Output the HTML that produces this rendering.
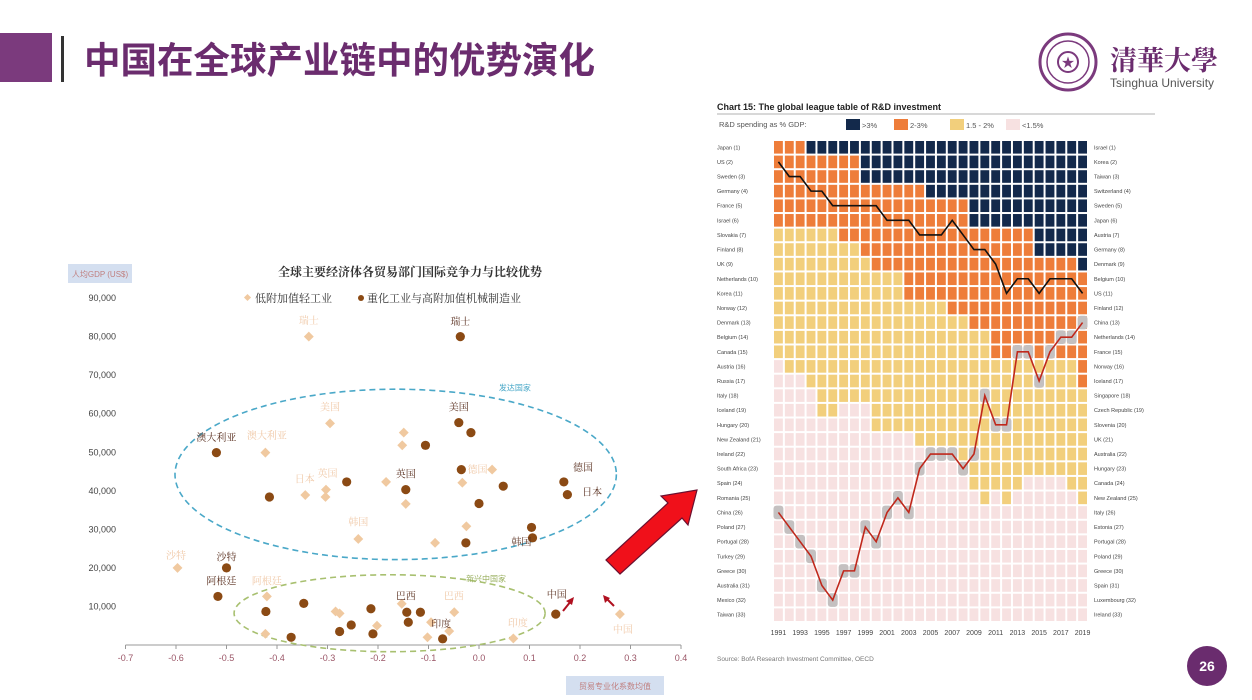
<!DOCTYPE html>
<html><head><meta charset="utf-8">
<style>
html,body{margin:0;padding:0;background:#fff;}
svg{display:block;font-family:"Liberation Sans","Noto Sans CJK SC",sans-serif;}
</style></head>
<body>
<svg id="page" width="1252" height="700" viewBox="0 0 1252 700" xmlns="http://www.w3.org/2000/svg">
  <rect x="0" y="0" width="1252" height="700" fill="#fff"/>
  <rect x="0" y="33" width="52" height="49" fill="#7b3a7d"/>
  <rect x="61" y="36" width="3" height="46" fill="#333"/>
  <text x="84" y="73" font-size="36.5" font-weight="bold" fill="#6b2c6e" font-family="'Liberation Sans','Noto Sans CJK SC',sans-serif">中国在全球产业链中的优势演化</text>

  <g>
    <circle cx="1068" cy="62" r="28" fill="none" stroke="#7b3a7d" stroke-width="3"/>
    <circle cx="1068" cy="62" r="21" fill="none" stroke="#7b3a7d" stroke-width="1.5"/>
    <circle cx="1068" cy="62" r="10" fill="none" stroke="#7b3a7d" stroke-width="2"/>
    <text x="1068" y="67" font-size="13" fill="#7b3a7d" text-anchor="middle">★</text>
    <text x="1110" y="70" font-size="27" fill="#6b2c6e" font-family="'Noto Serif CJK SC','Noto Sans CJK SC',serif" font-weight="bold">清華大學</text>
    <text x="1110" y="87" font-size="12" fill="#555">Tsinghua University</text>
  </g>

  <g id="scatter">
    <rect x="68" y="264" width="64" height="19" fill="#d4dff0"/>
    <text x="100" y="277" font-size="8" fill="#c08080" text-anchor="middle">人均GDP (US$)</text>
    <text x="410" y="276" font-size="12" font-weight="bold" fill="#333" text-anchor="middle" font-family="'Noto Serif CJK SC','Liberation Serif',serif">全球主要经济体各贸易部门国际竞争力与比较优势</text>
    <g>
      <rect x="245" y="295" width="5" height="5" fill="#f0c9a0" transform="rotate(45 247.5 297.5)"/>
      <text x="255" y="302" font-size="11" fill="#333" font-family="'Noto Serif CJK SC',serif">低附加值轻工业</text>
    </g>
    <g>
      <circle cx="361" cy="298" r="3" fill="#8b4a14"/>
      <text x="367" y="302" font-size="11" fill="#333" font-family="'Noto Serif CJK SC',serif">重化工业与高附加值机械制造业</text>
    </g>
    <g id="sc-axes"></g>
    <g id="sc-ellipses"></g>
    <g id="sc-points"></g>
    <g id="sc-labels"></g>
    <rect x="566" y="676" width="98" height="19" fill="#d4dff0"/>
    <text x="615" y="689" font-size="8" fill="#c08080" text-anchor="middle">贸易专业化系数均值</text>
    <g>
      <line x1="563" y1="611" x2="571" y2="601" stroke="#b01020" stroke-width="2"/>
      <polygon points="574,597 566,601 572,605" fill="#b01020"/>
      <line x1="614" y1="606" x2="606" y2="598" stroke="#b01020" stroke-width="2"/>
      <polygon points="603,595 605,603 610,598" fill="#b01020"/>
    </g>
  </g>

  <polygon points="606,560 668,503 661,496 697,490 688,525 682,518 620,574" fill="#f0101a" stroke="#6a1030" stroke-width="1.2"/>

  <g id="heat">
    <text x="717" y="110" font-size="9" font-weight="bold" fill="#222">Chart 15: The global league table of R&amp;D investment</text>
    <line x1="717" y1="114" x2="1155" y2="114" stroke="#999" stroke-width="0.8"/>
    <text x="719" y="127" font-size="7.5" fill="#555">R&amp;D spending as % GDP:</text>
    <g><rect x="846" y="119" width="14" height="11" fill="#13294b"/><text x="862" y="128" font-size="7.5" fill="#555">&gt;3%</text></g>
    <g><rect x="894" y="119" width="14" height="11" fill="#ee7d3a"/><text x="910" y="128" font-size="7.5" fill="#555">2-3%</text></g>
    <g><rect x="950" y="119" width="14" height="11" fill="#f2cf7c"/><text x="966" y="128" font-size="7.5" fill="#555">1.5 - 2%</text></g>
    <g><rect x="1006" y="119" width="14" height="11" fill="#f7e1e1"/><text x="1022" y="128" font-size="7.5" fill="#555">&lt;1.5%</text></g>
    <g id="heat-cells"></g>
    <g id="heat-lines"></g>
    <g id="heat-labels"></g>
    <text x="717" y="661" font-size="6.5" fill="#777">Source: BofA Research Investment Committee, OECD</text>
  </g>

  <circle cx="1207" cy="666" r="20" fill="#6a2c6e"/>
  <text x="1207" y="671" font-size="14" font-weight="bold" fill="#fff" text-anchor="middle">26</text>
</svg>

<script>
const xTicks = [-0.7,-0.6,-0.5,-0.4,-0.3,-0.2,-0.1,0.0,0.1,0.2,0.3,0.4];
const xTickLabels = ["-0.7","-0.6","-0.5","-0.4","-0.3","-0.2","-0.1","0.0","0.1","0.2","0.3","0.4"];
const yTicks = [10000,20000,30000,40000,50000,60000,70000,80000,90000];
const yTickLabels = ["10,000","20,000","30,000","40,000","50,000","60,000","70,000","80,000","90,000"];
const heavyX = [-0.037,-0.04,-0.016,-0.106,-0.52,-0.035,-0.262,-0.145,0.048,0.168,0.175,-0.415,0.0,0.104,0.106,-0.026,-0.50,-0.517,-0.347,-0.422,-0.214,-0.143,-0.116,-0.14,-0.253,-0.276,-0.21,-0.372,-0.072,0.152];
const heavyY = [80000,57700,55100,51800,49900,45500,42300,40300,41200,42300,39000,38400,36700,30500,27800,26500,20000,12600,10800,8700,9400,8500,8500,5900,5200,3500,2900,2000,1600,8000];
const lightX = [-0.337,-0.295,-0.149,-0.152,-0.423,0.026,-0.184,-0.033,-0.303,-0.344,-0.304,-0.145,-0.025,-0.239,-0.087,-0.597,-0.42,-0.153,-0.284,-0.276,-0.049,-0.202,-0.095,-0.059,-0.423,-0.102,0.068,0.279];
const lightY = [80000,57500,55100,51800,49900,45500,42300,42100,40300,38900,38400,36600,30800,27500,26500,20000,12600,10700,8700,8200,8500,5000,5900,3600,2900,2000,1700,8000];
const heavyLabels = ["瑞士","美国","澳大利亚","英国","德国","日本","韩国","沙特","阿根廷","巴西","印度","中国"];
const heavyLabelX = [-0.037,-0.04,-0.52,-0.145,0.206,0.224,0.084,-0.50,-0.51,-0.145,-0.075,0.154];
const heavyLabelY = [84000,61900,54000,44500,46200,39800,26900,23000,16700,12800,5600,13200];
const lightLabels = ["瑞士","美国","澳大利亚","日本","英国","德国","韩国","沙特","阿根廷","巴西","印度","中国"];
const lightLabelX = [-0.337,-0.295,-0.42,-0.345,-0.30,-0.003,-0.239,-0.60,-0.42,-0.05,0.077,0.285];
const lightLabelY = [84300,61900,54500,43200,44600,45700,32000,23300,16700,12800,5900,4200];

const NS = "http://www.w3.org/2000/svg";
function mk(tag, attrs, parent){const e=document.createElementNS(NS,tag);for(const k in attrs)e.setAttribute(k,attrs[k]);parent.appendChild(e);return e;}
function sx(v){return 479 + v*505;}
function sy(v){return 645 - v*0.003855;}

const axes = document.getElementById('sc-axes');
const xl = mk('line',{x1:sx(-0.7),y1:645,x2:sx(0.4),y2:645,stroke:'#999','stroke-width':1},axes);


xTicks.forEach((t,i)=>{
  mk('line',{x1:sx(t),y1:645,x2:sx(t),y2:649,stroke:'#999','stroke-width':1},axes);
  const tx = mk('text',{x:sx(t),y:661,'font-size':9,fill:'#9a5566','text-anchor':'middle'},axes);
  tx.textContent = xTickLabels[i];
  
  
});
yTicks.forEach((t,i)=>{
  const ty = mk('text',{x:116,y:sy(t)+3,'font-size':9,fill:'#444','text-anchor':'end'},axes);
  ty.textContent = yTickLabels[i];
  
  
});

const ell = document.getElementById('sc-ellipses');
const e1 = mk('ellipse',{cx:sx(-0.165),cy:sy(44250),rx:0.437*505,ry:22100*0.003855,fill:'none',stroke:'#4aa8c8','stroke-width':1.6,'stroke-dasharray':'6,4'},ell);


const e2 = mk('ellipse',{cx:sx(-0.177),cy:sy(8240),rx:0.308*505,ry:9980*0.003855,fill:'none',stroke:'#a8c070','stroke-width':1.6,'stroke-dasharray':'6,4'},ell);


const t1 = mk('text',{x:sx(0.071),y:sy(66800)+3,'font-size':8,fill:'#4aa8c8','text-anchor':'middle'},ell);
t1.textContent='发达国家';


const t2 = mk('text',{x:sx(0.014),y:sy(17200)+3,'font-size':8,fill:'#9ab060','text-anchor':'middle'},ell);
t2.textContent='新兴中国家';



const pts = document.getElementById('sc-points');
lightX.forEach((x,i)=>{
  const cx=sx(x), cy=sy(lightY[i]);
  const d = mk('rect',{x:cx-3.5,y:cy-3.5,width:7,height:7,fill:'#f0c9a0',transform:`rotate(45 ${cx} ${cy})`},pts);
  
  
});
heavyX.forEach((x,i)=>{
  const c = mk('circle',{cx:sx(x),cy:sy(heavyY[i]),r:4.6,fill:'#8b4a14'},pts);
  
  
});
const labs = document.getElementById('sc-labels');
lightLabels.forEach((s,i)=>{
  const t = mk('text',{x:sx(lightLabelX[i]),y:sy(lightLabelY[i])+4,'font-size':10,fill:'#f0c9a8','text-anchor':'middle','font-family':"'Noto Serif CJK SC',serif"},labs);
  t.textContent=s;
  
  
});
heavyLabels.forEach((s,i)=>{
  const t = mk('text',{x:sx(heavyLabelX[i]),y:sy(heavyLabelY[i])+4,'font-size':10,fill:'#5a3020','text-anchor':'middle','font-family':"'Noto Serif CJK SC',serif"},labs);
  t.textContent=s;
  
  
});

const years = [1991,1992,1993,1994,1995,1996,1997,1998,1999,2000,2001,2002,2003,2004,2005,2006,2007,2008,2009,2010,2011,2012,2013,2014,2015,2016,2017,2018,2019];
const yearLabels = ["1991","1993","1995","1997","1999","2001","2003","2005","2007","2009","2011","2013","2015","2017","2019"];
const countOver3 = [0,0,0,1,1,1,1,1,3,3,3,3,3,3,4,4,4,4,6,6,6,6,6,6,8,8,8,8,9];
const lastRow2to3 = [6,6,6,6,6,6,7,7,8,9,9,9,11,11,11,11,12,12,13,13,15,15,15,15,15,15,15,15,17];
const lastRow15to2 = [15,16,16,17,19,19,18,18,18,20,20,20,20,21,21,21,21,22,24,25,24,25,24,23,23,23,23,24,25];
const usRank = [2,3,3,4,4,5,5,5,5,5,6,6,6,7,7,7,6,7,8,8,9,11,10,10,11,10,10,10,11];
const chinaRank = [26,27,28,29,31,32,30,30,27,28,26,25,26,23,22,22,22,23,22,18,20,20,15,15,17,15,14,14,13];
const leftNames = ["Japan (1)","US (2)","Sweden (3)","Germany (4)","France (5)","Israel (6)","Slovakia (7)","Finland (8)","UK (9)","Netherlands (10)","Korea (11)","Norway (12)","Denmark (13)","Belgium (14)","Canada (15)","Austria (16)","Russia (17)","Italy (18)","Iceland (19)","Hungary (20)","New Zealand (21)","Ireland (22)","South Africa (23)","Spain (24)","Romania (25)","China (26)","Poland (27)","Portugal (28)","Turkey (29)","Greece (30)","Australia (31)","Mexico (32)","Taiwan (33)"];
const rightNames = ["Israel (1)","Korea (2)","Taiwan (3)","Switzerland (4)","Sweden (5)","Japan (6)","Austria (7)","Germany (8)","Denmark (9)","Belgium (10)","US (11)","Finland (12)","China (13)","Netherlands (14)","France (15)","Norway (16)","Iceland (17)","Singapore (18)","Czech Republic (19)","Slovenia (20)","UK (21)","Australia (22)","Hungary (23)","Canada (24)","New Zealand (25)","Italy (26)","Estonia (27)","Portugal (28)","Poland (29)","Greece (30)","Spain (31)","Luxembourg (32)","Ireland (33)"];

const HX0=773, HX1=1088, HY0=140, HY1=622, NROW=33;
const cw=(HX1-HX0)/years.length, rh=(HY1-HY0)/NROW;
function colX(i){return HX0 + i*cw;}
function rowY(r){return HY0 + (r-1)*rh;}
function yearX(y){return colX(years.indexOf(y)) + cw/2;}

const cells = document.getElementById('heat-cells');
const bg = mk('rect',{x:HX0,y:HY0,width:HX1-HX0,height:HY1-HY0,fill:'#fff'},cells);


years.forEach((y,i)=>{
  for(let r=1;r<=NROW;r++){
    let c='#f7e1e1';
    if(r<=countOver3[i]) c='#13294b';
    else if(r<=lastRow2to3[i]) c='#ee7d3a';
    else if(r<=lastRow15to2[i]) c='#f2cf7c';
    const cell = mk('rect',{x:colX(i)+1,y:rowY(r)+1,width:cw-2,height:rh-2,fill:c},cells);
    
    
  }
});
const lines = document.getElementById('heat-lines');
chinaRank.forEach((r,i)=>{
  const g = mk('rect',{x:colX(i)+0.5,y:rowY(r)+0.5,width:cw-1,height:rh-1,rx:3,fill:'#c4c0c0'},lines);
  
  
});
const usPts = usRank.map((r,i)=>`${colX(i)+cw/2},${rowY(r)+rh/2}`).join(' ');
const usl = mk('polyline',{points:usPts,fill:'none',stroke:'#111','stroke-width':1.6},lines);


const cnPts = chinaRank.map((r,i)=>`${colX(i)+cw/2},${rowY(r)+rh/2}`).join(' ');
const cnl = mk('polyline',{points:cnPts,fill:'none',stroke:'#c0281c','stroke-width':1.6},lines);



const hl = document.getElementById('heat-labels');
leftNames.forEach((s,i)=>{
  const t = mk('text',{x:717,y:rowY(i+1)+rh/2+2,'font-size':5.5,fill:'#444'},hl);
  t.textContent=s;
  
  
});
rightNames.forEach((s,i)=>{
  const t = mk('text',{x:1094,y:rowY(i+1)+rh/2+2,'font-size':5.5,fill:'#444'},hl);
  t.textContent=s;
  
  
});
yearLabels.forEach(s=>{
  const t = mk('text',{x:yearX(+s),y:635,'font-size':7,fill:'#444','text-anchor':'middle'},hl);
  t.textContent=s;
  
  
});
</script>
</body></html>
